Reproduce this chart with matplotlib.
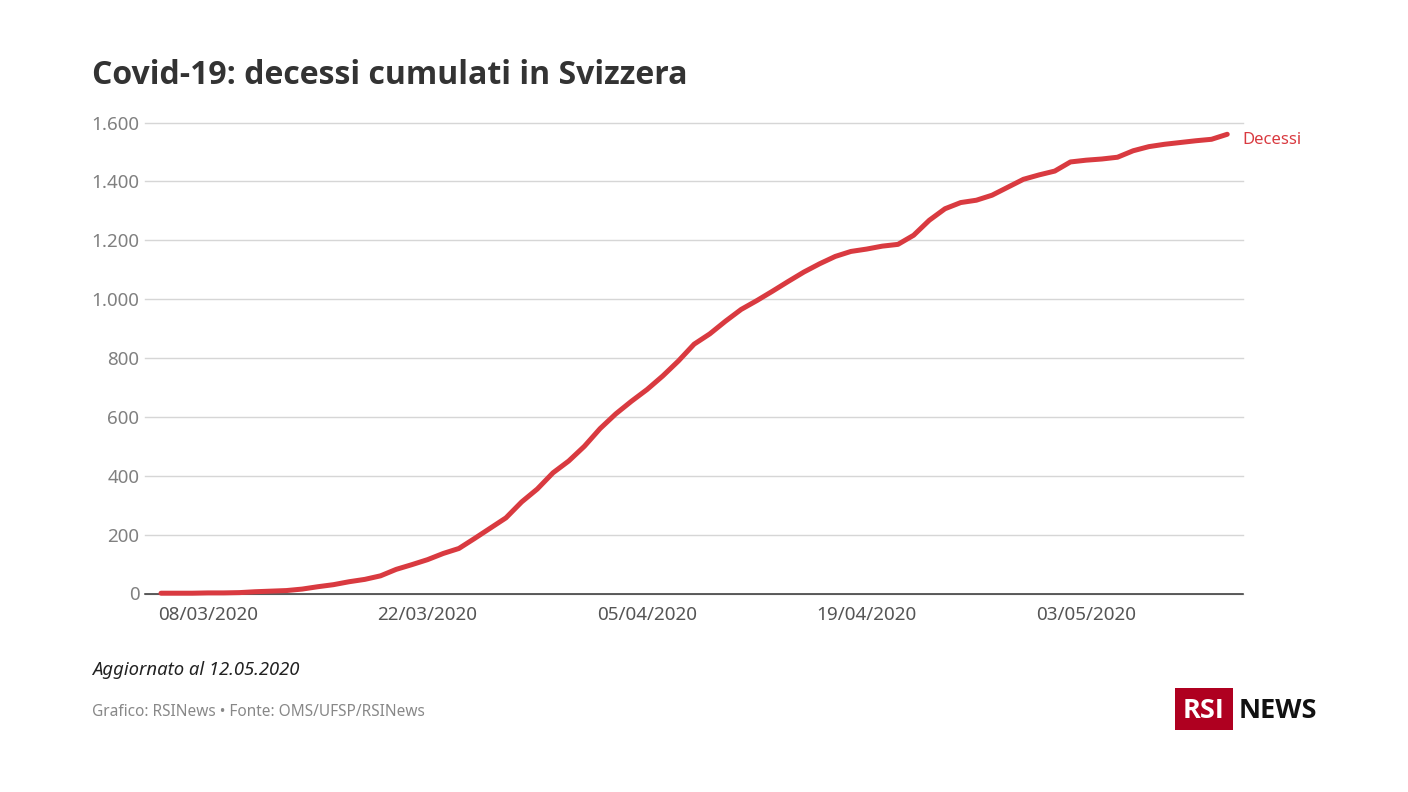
import numpy as np
import pandas as pd
import matplotlib
matplotlib.use("Agg")
import matplotlib.pyplot as plt
from matplotlib.patches import Rectangle

plt.rcParams['font.family'] = ['Noto Sans', 'DejaVu Sans']
BOLD = ['Open Sans', 'DejaVu Sans']

title = "Covid-19: decessi cumulati in Svizzera"
updated = "Aggiornato al 12.05.2020"
source = "Grafico: RSINews • Fonte: OMS/UFSP/RSINews"
series_name = "Decessi"
start_date = "2020-03-05"
deaths = [1, 1, 1, 2, 2, 3, 6, 8, 10, 15, 23, 30, 40, 48, 60, 82, 98, 115, 136, 153,
          187, 222, 257, 311, 355, 410, 450, 500, 560, 610, 653, 693, 739, 790, 847,
          882, 925, 965, 995, 1027, 1060, 1092, 1120, 1145, 1162, 1170, 1180, 1186,
          1217, 1268, 1307, 1328, 1336, 1353, 1380, 1407, 1422, 1435, 1466, 1472,
          1476, 1482, 1504, 1518, 1526, 1532, 1538, 1543, 1560]
y_ticks = [0, 200, 400, 600, 800, 1000, 1200, 1400, 1600]
y_labels = ["0", "200", "400", "600", "800", "1.000", "1.200", "1.400", "1.600"]
x_ticks = ["2020-03-08", "2020-03-22", "2020-04-05", "2020-04-19", "2020-05-03"]
x_labels = ["08/03/2020", "22/03/2020", "05/04/2020", "19/04/2020", "03/05/2020"]

W, H = 1408, 792
dates = pd.date_range(start_date, periods=len(deaths))
fig = plt.figure(figsize=(W / 100, H / 100), dpi=100, facecolor="white")
L, R, T, B = 145, 1243, 122.5, 593.5
ax = fig.add_axes([L / W, 1 - B / H, (R - L) / W, (B - T) / H])
ax.set_facecolor("white")
ax.set_ylim(0, 1600)
d0 = dates[0]
ppd = 15.68
ax.set_xlim(d0 - pd.Timedelta(days=(161 - L) / ppd), d0 + pd.Timedelta(days=(R - 161) / ppd))

ax.set_yticks(y_ticks, y_labels)
ax.set_xticks(pd.to_datetime(x_ticks), x_labels)
ax.grid(axis="y", color="#d6d6d6", lw=1.0, zorder=1, clip_on=False)
ax.set_axisbelow(True)
for s in ["top", "left", "right"]:
    ax.spines[s].set_visible(False)
ax.spines["bottom"].set_color("#333333")
ax.spines["bottom"].set_linewidth(1.1)
ax.spines["bottom"].set_zorder(2)
ax.tick_params(axis="y", length=0, pad=4, labelsize=13.5, labelcolor="#808080")
ax.tick_params(axis="x", length=0, pad=9, labelsize=13.6, labelcolor="#555555")

ax.plot(dates, deaths, color="#d93a40", lw=3.6, solid_capstyle="round",
        solid_joinstyle="round", clip_on=False, zorder=3)
ax.annotate(series_name, xy=(dates[-1], deaths[-1]), xytext=(1243 - 1228, 2),
            textcoords="offset pixels", fontsize=12, color="#d93a40",
            va="top", ha="left", annotation_clip=False)

fig.text(92 / W, 1 - 75 / H, title, fontsize=23, fontweight="bold", family=BOLD, color="#333333",
         va="center", ha="left")
fig.text(92 / W, 1 - 670 / H, updated, fontsize=13.3, style="italic", color="#222222",
         va="center", ha="left")
fig.text(92 / W, 1 - 712 / H, source, fontsize=11.1, color="#888888",
         va="center", ha="left")

fig.add_artist(Rectangle((1174.5 / W, 1 - 729.5 / H), 58 / W, 42 / H,
                         transform=fig.transFigure, facecolor="#af0020", edgecolor="none"))
fig.text(1203.5 / W, 1 - 711 / H, "RSI", fontsize=19.5, fontweight="bold", family=BOLD, color="white",
         va="center", ha="center")
fig.text(1239 / W, 1 - 711 / H, "NEWS", fontsize=19.5, fontweight="bold", family=BOLD, color="#111111",
         va="center", ha="left")

fig.savefig("out.png", dpi=100, facecolor="white")
